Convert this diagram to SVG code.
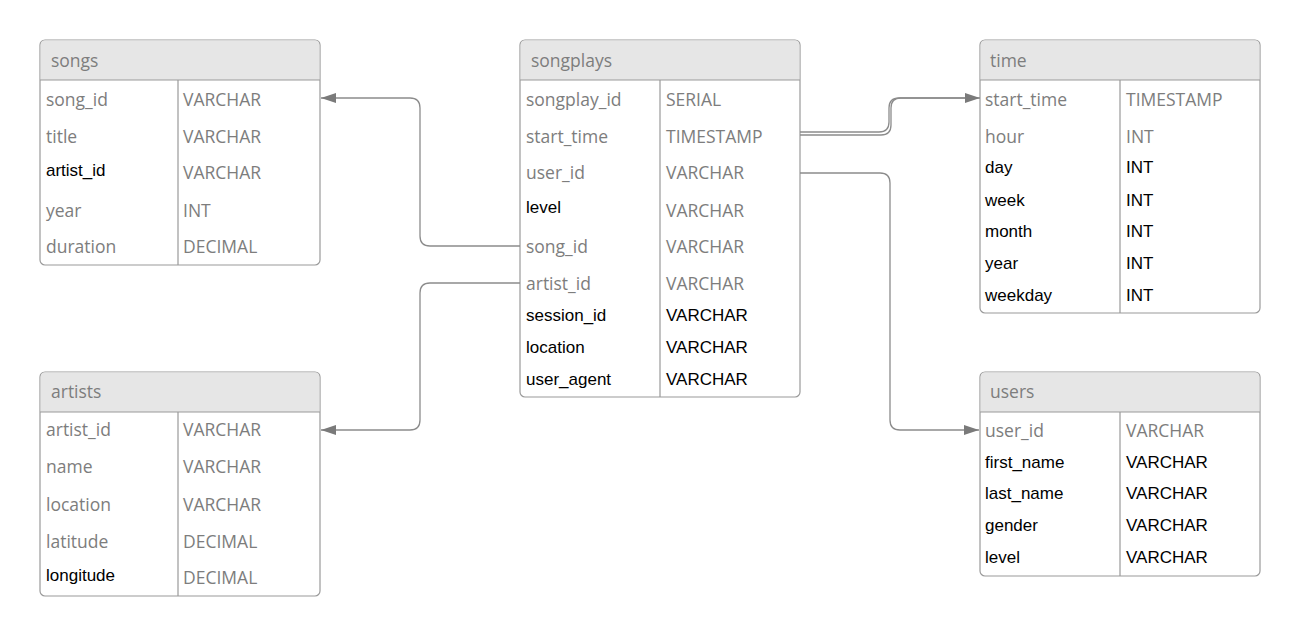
<svg xmlns="http://www.w3.org/2000/svg" width="1300" height="637" viewBox="0 0 1300 637">
<defs>
<style>
.box{fill:#fff;stroke:#9a9a9a;stroke-width:1.2}
.hdr{fill:#e6e6e6;stroke:none}
.sep{stroke:#9a9a9a;stroke-width:1.2;fill:none}
.g{font-family:"Open Sans","Noto Sans",sans-serif;font-size:17.5px;fill:#7d7d7d}
.b{font-family:"Liberation Sans",Arial,sans-serif;font-size:17px;fill:#000}
.h{font-family:"Open Sans","Noto Sans",sans-serif;font-size:17.5px;fill:#7d7d7d}
.con{fill:none;stroke:#8c8c8c;stroke-width:1.3}
</style>
<marker id="arr" markerUnits="userSpaceOnUse" markerWidth="15" markerHeight="10" refX="15" refY="5" orient="auto">
<path d="M0,0 L15,5 L0,10 z" fill="#7a7a7a"/>
</marker>
</defs>
<rect width="1300" height="637" fill="#fff"/>

<g id="songs">
<rect class="box" x="40" y="40" width="280" height="225" rx="5"/>
<path class="hdr" d="M45,40.6 H315 Q319.4,40.6 319.4,45 V80 H40.6 V45 Q40.6,40.6 45,40.6 z"/>
<path class="sep" d="M40,80 H320 M178,80 V265"/>
<text class="h" x="51" y="67">songs</text>
<text class="g" x="46" y="106">song_id</text><text class="g" x="183" y="106">VARCHAR</text>
<text class="g" x="46" y="142.5">title</text><text class="g" x="183" y="142.5">VARCHAR</text>
<text class="b" x="46" y="176">artist_id</text><text class="g" x="183" y="179">VARCHAR</text>
<text class="g" x="46" y="217">year</text><text class="g" x="183" y="217">INT</text>
<text class="g" x="46" y="253">duration</text><text class="g" x="183" y="253">DECIMAL</text>
</g>

<g id="songplays">
<rect class="box" x="520" y="40" width="280" height="357" rx="5"/>
<path class="hdr" d="M525,40.6 H795 Q799.4,40.6 799.4,45 V80 H520.6 V45 Q520.6,40.6 525,40.6 z"/>
<path class="sep" d="M520,80 H800 M660,80 V397"/>
<text class="h" x="531" y="67">songplays</text>
<text class="g" x="526" y="106">songplay_id</text><text class="g" x="666" y="106">SERIAL</text>
<text class="g" x="526" y="142.5">start_time</text><text class="g" x="666" y="142.5">TIMESTAMP</text>
<text class="g" x="526" y="179">user_id</text><text class="g" x="666" y="179">VARCHAR</text>
<text class="b" x="526" y="213">level</text><text class="g" x="666" y="216.5">VARCHAR</text>
<text class="g" x="526" y="253">song_id</text><text class="g" x="666" y="253">VARCHAR</text>
<text class="g" x="526" y="290">artist_id</text><text class="g" x="666" y="290">VARCHAR</text>
<text class="b" x="526" y="320.5">session_id</text><text class="b" x="666" y="320.5">VARCHAR</text>
<text class="b" x="526" y="352.5">location</text><text class="b" x="666" y="352.5">VARCHAR</text>
<text class="b" x="526" y="385">user_agent</text><text class="b" x="666" y="385">VARCHAR</text>
</g>

<g id="time">
<rect class="box" x="980" y="40" width="280" height="273" rx="5"/>
<path class="hdr" d="M985,40.6 H1255 Q1259.4,40.6 1259.4,45 V80 H980.6 V45 Q980.6,40.6 985,40.6 z"/>
<path class="sep" d="M980,80 H1260 M1120,80 V313"/>
<text class="h" x="990" y="67">time</text>
<text class="g" x="985" y="106">start_time</text><text class="g" x="1126" y="106">TIMESTAMP</text>
<text class="g" x="985" y="142.5">hour</text><text class="g" x="1126" y="142.5">INT</text>
<text class="b" x="985" y="173.3">day</text><text class="b" x="1126" y="173.3">INT</text>
<text class="b" x="985" y="205.5">week</text><text class="b" x="1126" y="205.5">INT</text>
<text class="b" x="985" y="237.3">month</text><text class="b" x="1126" y="237.3">INT</text>
<text class="b" x="985" y="269">year</text><text class="b" x="1126" y="269">INT</text>
<text class="b" x="985" y="301">weekday</text><text class="b" x="1126" y="301">INT</text>
</g>

<g id="users">
<rect class="box" x="980" y="372" width="280" height="204" rx="5"/>
<path class="hdr" d="M985,372.6 H1255 Q1259.4,372.6 1259.4,377 V412 H980.6 V377 Q980.6,372.6 985,372.6 z"/>
<path class="sep" d="M980,412 H1260 M1120,412 V576"/>
<text class="h" x="990" y="398">users</text>
<text class="g" x="985" y="437">user_id</text><text class="g" x="1126" y="437">VARCHAR</text>
<text class="b" x="985" y="468.3">first_name</text><text class="b" x="1126" y="468.3">VARCHAR</text>
<text class="b" x="985" y="499.3">last_name</text><text class="b" x="1126" y="499.3">VARCHAR</text>
<text class="b" x="985" y="531">gender</text><text class="b" x="1126" y="531">VARCHAR</text>
<text class="b" x="985" y="562.7">level</text><text class="b" x="1126" y="562.7">VARCHAR</text>
</g>

<g id="artists">
<rect class="box" x="40" y="372" width="280" height="224" rx="5"/>
<path class="hdr" d="M45,372.6 H315 Q319.4,372.6 319.4,377 V412 H40.6 V377 Q40.6,372.6 45,372.6 z"/>
<path class="sep" d="M40,412 H320 M178,412 V596"/>
<text class="h" x="51" y="398">artists</text>
<text class="g" x="46" y="436">artist_id</text><text class="g" x="183" y="436">VARCHAR</text>
<text class="g" x="46" y="473.3">name</text><text class="g" x="183" y="473.3">VARCHAR</text>
<text class="g" x="46" y="510.7">location</text><text class="g" x="183" y="510.7">VARCHAR</text>
<text class="g" x="46" y="548.3">latitude</text><text class="g" x="183" y="548.3">DECIMAL</text>
<text class="b" x="46" y="581">longitude</text><text class="g" x="183" y="584.3">DECIMAL</text>
</g>

<g id="connectors">
<path class="con" marker-end="url(#arr)" d="M520,246 H430 Q420,246 420,236 V108 Q420,98 410,98 H321"/>
<path class="con" marker-end="url(#arr)" d="M520,283 H430 Q420,283 420,293 V420 Q420,430 410,430 H321"/>
<path class="con" d="M800,132 H879 Q889,132 889,122 V108 Q889,98 899,98 H965"/>
<path class="con" marker-end="url(#arr)" d="M800,135 H881 Q891,135 891,125 V108 Q891,98 901,98 H980"/>
<path class="con" marker-end="url(#arr)" d="M800,173 H880 Q890,173 890,183 V420 Q890,430 900,430 H979"/>
</g>
</svg>
